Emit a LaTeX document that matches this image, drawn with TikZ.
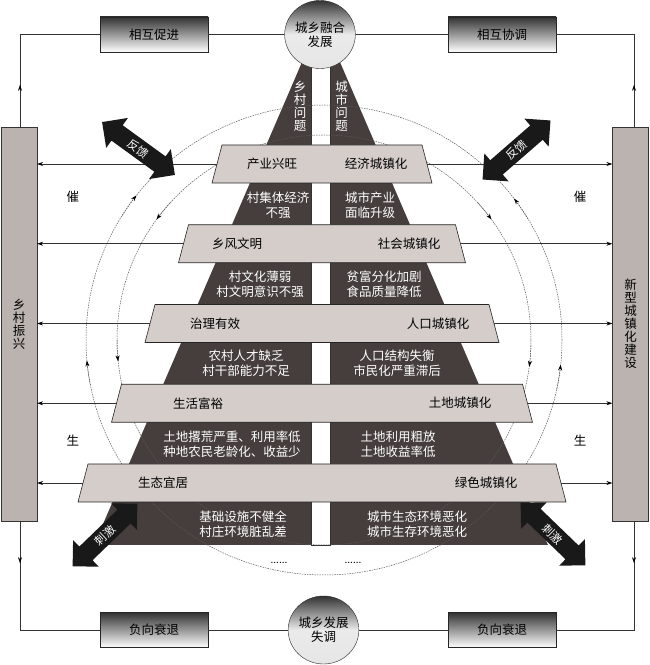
\documentclass[tikz,border=0pt]{standalone}
\usepackage{fontspec}
\setmainfont{Noto Sans CJK SC}
\usetikzlibrary{shapes.geometric,shapes.arrows,arrows.meta}
\definecolor{pyrdark}{RGB}{69,62,60}
\definecolor{bandgray}{RGB}{212,205,202}
\definecolor{bargray}{RGB}{186,179,175}

\begin{document}
\begin{tikzpicture}[x=1pt,y=1pt,font=\fontsize{12.5}{15}\selectfont,
  band/.style={draw=black!85, fill=bandgray, line width=0.6pt},
  sidebar/.style={draw=black!80, fill=bargray, minimum width=36pt, minimum height=394pt, inner sep=0pt, align=center, font=\fontsize{12.5}{13}\selectfont},
  relbox/.style={draw=black!85, top color=black!80, bottom color=white, minimum width=108pt, minimum height=35pt, inner sep=0pt},
  stage/.style={ellipse, draw=black!85, top color=black!80, bottom color=black!10, middle color=black!8, minimum width=66pt, minimum height=68pt, inner sep=0pt, align=center, font=\fontsize{12.5}{14}\selectfont},
  fatarrow/.style={double arrow, fill=black!90, text=white, minimum height=90pt, double arrow head extend=9pt, inner xsep=0pt, inner ysep=4pt, font=\fontsize{11.5}{12}\selectfont},
  link/.style={line width=0.6pt, black!80},
  tip/.style={-{Stealth[length=6pt,width=4pt,black]}},
  ring/.style={black!65, line width=0.5pt, dash pattern=on 1.5pt off 1pt},
  wtext/.style={text=white, align=center, inner sep=0pt},
]
\useasboundingbox (0,0) rectangle (650,665);

% pyramid and the gap between rural and urban
\fill[pyrdark] (94,120) -- (321,647) -- (548,120) -- cycle;
\draw[black!80, fill=white, line width=0.4pt] (311.5,120) rectangle (330.5,612);

% the two rings
\coordinate (c) at (324,325);
\draw[ring] (c) ellipse [x radius=238, y radius=235];
\draw[ring] (c) ellipse [x radius=207, y radius=205];
\draw[ring,tip] (c) ++(148:238 and 235) arc[start angle=148, end angle=142, x radius=238, y radius=235];
\draw[ring,tip] (c) ++(191:238 and 235) arc[start angle=191, end angle=185, x radius=238, y radius=235];
\draw[ring,tip] (c) ++(31:238 and 235) arc[start angle=31, end angle=37, x radius=238, y radius=235];
\draw[ring,tip] (c) ++(-12:238 and 235) arc[start angle=-12, end angle=-6, x radius=238, y radius=235];
\draw[ring,tip] (c) ++(138:207 and 205) arc[start angle=138, end angle=144, x radius=207, y radius=205];
\draw[ring,tip] (c) ++(180:207 and 205) arc[start angle=180, end angle=186, x radius=207, y radius=205];
\draw[ring,tip] (c) ++(42:207 and 205) arc[start angle=42, end angle=36, x radius=207, y radius=205];
\draw[ring,tip] (c) ++(-1.5:207 and 205) arc[start angle=-1.5, end angle=-7.5, x radius=207, y radius=205];

% stimulus arrows (under the last band)
\node[fatarrow, rotate=44] (stiml) at (105,130) {刺激};
\node[fatarrow, rotate=-44] (stimr) at (553,131) {刺激};

% bands
\draw[band] (212,482) -- (222,520) -- (422,520) -- (432,482) -- cycle;
\draw[band] (178.5,402.25) -- (188.5,440.25) -- (455.5,440.25) -- (465.5,402.25) -- cycle;
\draw[band] (145,322.5) -- (155,360.5) -- (489,360.5) -- (499,322.5) -- cycle;
\draw[band] (111.5,242.75) -- (121.5,280.75) -- (522.5,280.75) -- (532.5,242.75) -- cycle;
\draw[band] (78,163) -- (88,201) -- (556,201) -- (566,163) -- cycle;
\coordinate (b1w) at (217,501);     \coordinate (b1e) at (427,501);
\coordinate (b2w) at (183.5,421.25); \coordinate (b2e) at (460.5,421.25);
\coordinate (b3w) at (150,341.5);   \coordinate (b3e) at (494,341.5);
\coordinate (b4w) at (116.5,261.75); \coordinate (b4e) at (527.5,261.75);
\coordinate (b5w) at (83,182);      \coordinate (b5e) at (561,182);

\node (l1) at (272,501) {产业兴旺};
\node (r1) at (376,501) {经济城镇化};
\node (l2) at (237,421.25) {乡风文明};
\node (r2) at (409,421.25) {社会城镇化};
\node (l3) at (215,341.5) {治理有效};
\node (r3) at (438,341.5) {人口城镇化};
\node (l4) at (198,261.75) {生活富裕};
\node (r4) at (460,261.75) {土地城镇化};
\node (l5) at (163,182) {生态宜居};
\node (r5) at (486,182) {绿色城镇化};

% problems inside the pyramid
\node[wtext, font=\fontsize{12.5}{13}\selectfont] (qrur) at (300,559) {乡\\村\\问\\题};
\node[wtext, font=\fontsize{12.5}{13}\selectfont] (qurb) at (341.5,559) {城\\市\\问\\题};
\node[wtext] (p1l) at (278,460) {村集体经济\\不强};
\node[wtext] (p1r) at (370,460) {城市产业\\面临升级};
\node[wtext] (p2l) at (260,380.5) {村文化薄弱\\村文明意识不强};
\node[wtext] (p2r) at (384,380.5) {贫富分化加剧\\食品质量降低};
\node[wtext] (p3l) at (246,301.5) {农村人才缺乏\\村干部能力不足};
\node[wtext] (p3r) at (397,301.5) {人口结构失衡\\市民化严重滞后};
\node[wtext] (p4l) at (232,220.5) {土地撂荒严重、利用率低\\种地农民老龄化、收益少};
\node[wtext] (p4r) at (398,220.5) {土地利用粗放\\土地收益率低};
\node[wtext] (p5l) at (243,140.5) {基础设施不健全\\村庄环境脏乱差};
\node[wtext] (p5r) at (417,140.5) {城市生态环境恶化\\城市生存环境恶化};
\node[font=\fontsize{10}{10}\selectfont] (dotl) at (279,102) {......};
\node[font=\fontsize{10}{10}\selectfont] (dotr) at (353,102) {......};

% side bars and the outer loop
\node[sidebar] (rural) at (19,341) {乡\\村\\振\\兴};
\node[sidebar] (urban) at (630.5,341) {新\\型\\城\\镇\\化\\建\\设};
\node[stage] (fuse) at (320,630.5) {城乡融合\\发展};
\node[relbox] (promote) at (154,630.5) {相互促进};
\node[relbox] (coord) at (502,630.5) {相互协调};
\node[stage] (disorder) at (323.5,35) {城乡发展\\失调};
\node[relbox] (declL) at (154,35) {负向衰退};
\node[relbox] (declR) at (502,35) {负向衰退};

\coordinate (tl) at (20,630.5);
\coordinate (tr) at (634,630.5);
\coordinate (bl) at (20,35);
\coordinate (br) at (634,35);
\draw[link] (tl |- rural.north) -- (tl) -- (promote.west);
\draw[link] (promote.east) -- (fuse.west);
\draw[link] (fuse.east) -- (coord.west);
\draw[link] (coord.east) -- (tr) -- (tr |- urban.north);
\draw[link,tip] (tl |- rural.north) -- ++(0,42);
\draw[link,tip] (tr |- urban.north) -- ++(0,42);
\draw[link] (bl |- rural.south) -- (bl) -- (declL.west);
\draw[link] (declL.east) -- (disorder.west);
\draw[link] (disorder.east) -- (declR.west);
\draw[link] (declR.east) -- (br) -- (br |- urban.south);
\draw[link,tip] (bl |- rural.south) -- ++(0,-42);
\draw[link,tip] (br |- urban.south) -- ++(0,-42);

% bands to the side bars
\draw[link,tip] (b1w) -- (b1w -| rural.east);
\draw[link,tip] (b2w) -- (b2w -| rural.east);
\draw[link,tip] (b3w) -- (b3w -| rural.east);
\draw[link,tip] (b4w) -- (b4w -| rural.east);
\draw[link,tip] (b5w) -- (b5w -| rural.east);
\draw[link,tip] (b1e) -- (b1e -| urban.west);
\draw[link,tip] (b2e) -- (b2e -| urban.west);
\draw[link,tip] (b3e) -- (b3e -| urban.west);
\draw[link,tip] (b4e) -- (b4e -| urban.west);
\draw[link,tip] (b5e) -- (b5e -| urban.west);

% feedback arrows
\node[fatarrow, rotate=-36] (fbl) at (138.5,516.5) {反馈};
\node[fatarrow, rotate=41] (fbr) at (516.5,515) {反馈};

\node (cuil) at (73,468) {催};
\node (cuir) at (580,468) {催};
\node (shl) at (73,224) {生};
\node (shr) at (580,224) {生};

\end{tikzpicture}
\end{document}
